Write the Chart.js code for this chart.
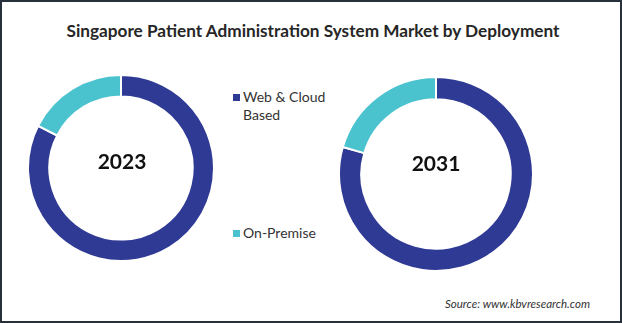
<!DOCTYPE html>
<html>
<head>
<meta charset="utf-8">
<script src="https://cdn.jsdelivr.net/npm/chart.js@4.4.1/dist/chart.umd.min.js"></script>
<style>
  html, body { margin: 0; padding: 0; background: #fff; }
  #frame { position: relative; width: 622px; height: 323px; box-sizing: border-box; border: 2px solid #27313b; background: #fff; overflow: hidden; font-family: Lato, "Open Sans", sans-serif; }
  .abs { position: absolute; }
  #title { left: 0; width: 622px; top: 18px; text-align: center; font-weight: bold; font-size: 17.2px; color: #262626; white-space: nowrap; }
  .year { font-weight: bold; font-size: 21px; color: #111; transform: translate(-50%, -50%); white-space: nowrap; }
  .leg { font-size: 14px; color: #333; line-height: 18px; }
  .leg .sq { position: absolute; left: -10px; top: 6px; width: 7px; height: 7px; }
  #source { left: 443px; top: 295px; font-size: 11.5px; font-style: italic; color: #333; white-space: nowrap; }
</style>
</head>
<body>
<div id="frame">
  <div id="title" class="abs"></div>
  <canvas id="c1" class="abs" width="188" height="188" style="left:25px; top:72px;"></canvas>
  <canvas id="c2" class="abs" width="196" height="196" style="left:336px; top:74px;"></canvas>
  <div id="y1" class="abs year" style="left:120px; top:158px;"></div>
  <div id="y2" class="abs year" style="left:434px; top:160px;"></div>
  <div id="leg0" class="abs leg" style="left:241px; top:86px;"><span class="sq"></span></div>
  <div id="leg1" class="abs leg" style="left:241px; top:222px;"><span class="sq"></span></div>
  <div id="source" class="abs"></div>
</div>
<script>
const titleText = "Singapore Patient Administration System Market by Deployment";
const categories = ["Web & Cloud Based", "On-Premise"];
const legendLines = [["Web & Cloud", "Based"], ["On-Premise"]];
const years = ["2023", "2031"];
const values2023 = [82.5, 17.5];
const values2031 = [79.5, 20.5];
const colors = ["#2e3a93", "#4bc3cf"];
const sourceText = "Source: www.kbvresearch.com";

document.getElementById('title').textContent = titleText;
document.getElementById('y1').textContent = years[0];
document.getElementById('y2').textContent = years[1];
document.getElementById('source').textContent = sourceText;
legendLines.forEach((lines, i) => {
  const el = document.getElementById('leg' + i);
  el.querySelector('.sq').style.background = colors[i];
  const t = document.createElement('div');
  t.innerHTML = lines.map(s => s.replace(/&/g, '&amp;')).join('<br>');
  el.appendChild(t);
});

function donut(id, vals) {
  new Chart(document.getElementById(id), {
    type: 'doughnut',
    data: {
      labels: categories,
      datasets: [{ data: vals, backgroundColor: colors, borderColor: '#ffffff', borderWidth: 2 }]
    },
    options: {
      responsive: false,
      animation: false,
      cutout: '77%',
      layout: { padding: 0 },
      plugins: { legend: { display: false }, tooltip: { enabled: false }, title: { display: false } }
    }
  });
}
donut('c1', values2023);
donut('c2', values2031);
</script>
</body>
</html>
